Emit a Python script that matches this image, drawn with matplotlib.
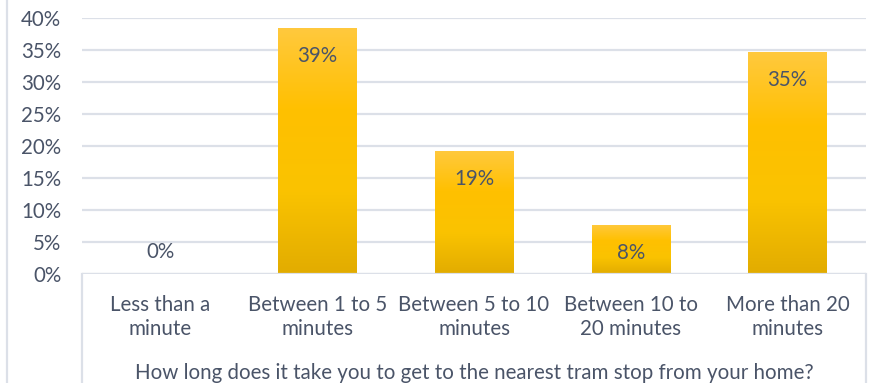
import matplotlib
matplotlib.use("Agg")
import matplotlib.pyplot as plt
import numpy as np
from matplotlib.colors import LinearSegmentedColormap
from matplotlib.lines import Line2D

categories = ["Less than a\nminute", "Between 1 to 5\nminutes", "Between 5 to 10\nminutes",
              "Between 10 to\n20 minutes", "More than 20\nminutes"]
values = [0.0, 38.46, 19.23, 7.69, 34.62]
value_labels = ["0%", "39%", "19%", "8%", "35%"]
yticks = [0, 5, 10, 15, 20, 25, 30, 35, 40]
ytick_labels = ["0%", "5%", "10%", "15%", "20%", "25%", "30%", "35%", "40%"]
xlabel = "How long does it take you to get to the nearest tram stop from your home?"

W, H = 889, 383
dpi = 100
fig = plt.figure(figsize=(W / dpi, H / dpi), dpi=dpi)
plt.rcParams['font.family'] = ['Lato', 'DejaVu Sans']

txt = "#4A5468"
grid_c = "#DCE0E8"
fs = 14.8

left, right, top, bottom = 82, 866, 18, 274
ax = fig.add_axes([left / W, 1 - bottom / H, (right - left) / W, (bottom - top) / H])
ax.set_xlim(-0.5, len(categories) - 0.5)
ax.set_ylim(0, 40)
for s in ax.spines.values():
    s.set_visible(False)
ax.set_yticks(yticks)
ax.set_yticklabels(ytick_labels, fontsize=fs, color=txt)
ax.tick_params(axis='y', length=0, pad=15)
ax.tick_params(axis='x', length=0)
ax.set_xticks([])
ax.yaxis.grid(True, color=grid_c, linewidth=1.6)
ax.set_axisbelow(True)

cmap = LinearSegmentedColormap.from_list("gold", ["#E2AC00", "#FAC300", "#FFC000", "#FFC93E"])
grad = np.linspace(0, 1, 256).reshape(-1, 1)
x = np.arange(len(categories))
bars = ax.bar(x, values, width=0.5, color="none", edgecolor="none", zorder=2)
for b in bars:
    if b.get_height() <= 0:
        continue
    x0, y0 = b.get_x(), b.get_y()
    w, h = b.get_width(), b.get_height()
    im = ax.imshow(grad, extent=[x0, x0 + w, y0, y0 + h], origin="lower",
                   aspect="auto", cmap=cmap, zorder=2)
    im.set_clip_path(b)
ax.set_xlim(-0.5, len(categories) - 0.5)
ax.set_ylim(0, 40)

for xi, v, lab in zip(x, values, value_labels):
    off = -28 if v > 0 else 22
    ax.annotate(lab, (xi, v), xytext=(0, off * 72 / dpi), textcoords="offset points",
                ha="center", va="center", fontsize=fs, color=txt, zorder=3)

# axis / table lines
ax.add_line(Line2D([left / W, right / W], [1 - bottom / H] * 2, transform=fig.transFigure,
                   color=grid_c, linewidth=1.6))
for xx in (left, right):
    fig.add_artist(Line2D([xx / W] * 2, [1 - bottom / H, 0], transform=fig.transFigure,
                          color=grid_c, linewidth=1.6))
fig.add_artist(Line2D([7 / W] * 2, [0, 1], transform=fig.transFigure,
                      color=grid_c, linewidth=1.6))

for xi, c in zip(x, categories):
    xf = left + (xi + 0.5) * (right - left) / len(categories)
    fig.text(xf / W, 1 - 317 / H, c, ha="center", va="center", fontsize=fs,
             color=txt, linespacing=1.3)

fig.text((left + right) / 2 / W, 1 - 373 / H, xlabel, ha="center", va="center",
         fontsize=fs, color=txt)

fig.savefig("out.png", dpi=dpi)
